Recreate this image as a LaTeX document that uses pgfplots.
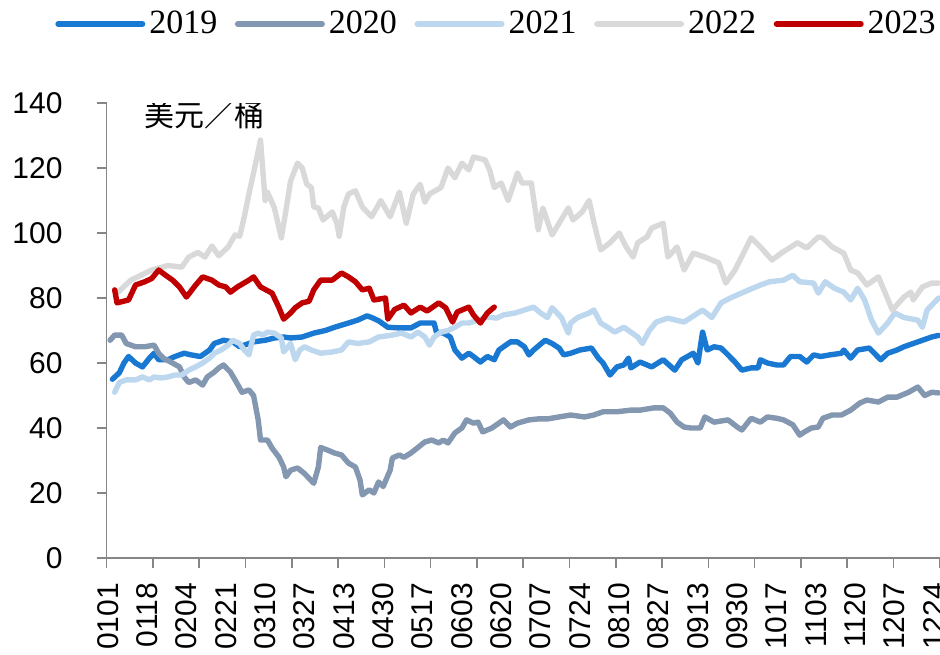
\documentclass[border=0pt]{standalone}
\usepackage{fontspec}
\setmainfont{Liberation Sans}
\newfontfamily\timesf{Liberation Serif}
\newfontfamily\cjk{Noto Sans CJK SC}
\usepackage{pgfplots}
\pgfplotsset{compat=1.18}
\definecolor{c2019}{RGB}{24,120,210}
\definecolor{c2020}{RGB}{132,151,176}
\definecolor{c2021}{RGB}{189,215,238}
\definecolor{c2022}{RGB}{217,217,217}
\definecolor{c2023}{RGB}{192,0,0}
\definecolor{axgray}{RGB}{134,134,134}

\begin{document}
\begin{tikzpicture}
\begin{axis}[
  scale only axis, width=416.7pt, height=227.5pt,
  at={(0,0)}, anchor=south west,
  xmin=0.5, xmax=360.6, ymin=0, ymax=140,
  axis x line=bottom, axis y line=left,
  axis line style={axgray, line width=0.8pt, -},
  tick style={axgray, line width=0.8pt},
  tick align=outside, major tick length=5pt,
  xtick={0.5,20.5,...,360.5}, xticklabels={},
  extra x ticks={1,18,...,358},
  extra x tick labels={0101,0118,0204,0221,0310,0327,0413,0430,0517,0603,0620,0707,0724,0810,0827,0913,0930,1017,1103,1120,1207,1224},
  extra x tick style={major tick length=0pt},
  x tick label style={yshift=-9pt, rotate=90, anchor=east, font=\fontsize{15}{18}\selectfont},
  ytick={0,20,...,140},
  y tick label style={xshift=-13.5pt, font=\fontsize{15}{18}\selectfont},
  /pgf/number format/assume math mode=true,
  every axis plot/.append style={line width=2.7pt, line join=round, line cap=round, mark=none},
  legend style={at={(-0.062,1.1736)}, anchor=west, draw=none, fill=none, inner sep=0pt,
    font=\timesf\fontsize{17}{20}\selectfont, nodes={inner sep=0pt},
    /tikz/every odd column/.append style={column sep=2pt},
    /tikz/every even column/.append style={column sep=8.8pt}},
  legend columns=5,
  legend image code/.code={\draw[#1, line width=3pt] (0pt,0pt) -- (42pt,0pt);},
]
% 2019
\addplot[c2019] coordinates {
(3,55)(6,57)(8,60)(10,62)(13,60)(16,58.8)(19,61.5)(21,63)(23,61)(27,61)(30,62)(34,63)(37,62.5)(41,62)(45,64)(47,66)(51,67)(55,66.5)(58,65)(60,65.5)(64,66.5)(69,67)(73,67.7)(77,68)(80,67.7)(85,68)(90,69.2)(95,70)(99,71)(105,72.3)(109,73.2)(113,74.5)(115,74)(118,73)(122,71)(127,70.8)(132,70.8)(136,72.3)(142,72.3)(143,69.5)(146,69.2)(149,68)(151,64)(154,61.5)(157,63)(159,62)(162,60.3)(165,62)(168,61)(170,64)(172,65)(175,66.5)(178,66.5)(181,65)(183,62.5)(185,64)(190,67)(193,66)(196,64.6)(198,62.5)(201,63)(205,64)(210,64.6)(213,61.5)(215,60)(218,56.3)(221,58.8)(224,59.4)(226,61.5)(227,58.5)(231,60.3)(236,58.8)(241,61)(246,57.8)(249,61)(254,63)(256,60)(258,69.5)(260,64)(263,65)(266,64.6)(269,62.5)(272,60.3)(275,57.8)(279,58.5)(282,58.5)(283,61)(286,60)(290,59.4)(293,59.4)(296,62)(300,62)(303,60.3)(306,62.5)(309,62)(313,62.5)(318,63)(319,64)(322,61.5)(325,64)(330,64.6)(335,61)(338,63)(342,64)(345,65)(349,66)(353,67)(357,68)(360,68.5)
};
\addlegendentry{2019}
% 2020
\addplot[c2020] coordinates {
(2,67)(4,68.6)(7,68.6)(9,66)(13,65)(17,65)(21,65.5)(23,63)(25,61.5)(29,60)(32,58.8)(34,55.7)(36,54)(39,54.8)(42,53.2)(44,55.7)(47,57.2)(49,58.5)(51,59.4)(54,57.2)(56,54.8)(59,51)(62,51.7)(64,50)(66,42.5)(67,36.3)(70,36.3)(72,33.8)(75,31)(77,28)(78,25)(80,27)(83,27.7)(86,26)(90,23)(92,28)(93,34)(96,33.2)(99,32.3)(102,31.7)(105,29.2)(108,28)(110,24)(111,19.4)(114,21)(116,20)(118,23.4)(120,22)(123,27)(124,30.8)(127,31.7)(129,31)(132,32.3)(135,34)(138,35.7)(141,36.3)(144,35.4)(146,36.3)(148,35.4)(151,38.5)(154,40)(156,42.5)(159,41.5)(161,41.8)(163,38.8)(167,40)(170,41.5)(172,42.5)(175,40.3)(178,41.5)(183,42.5)(187,42.8)(191,42.8)(196,43.4)(201,44)(207,43.4)(211,44)(215,45)(221,45)(227,45.5)(231,45.5)(237,46.2)(241,46.2)(244,44.6)(247,41.8)(250,40.3)(253,40)(257,40)(259,43.4)(263,41.8)(269,42.5)(273,40.3)(275,39.4)(279,43)(283,41.8)(286,43.4)(290,43)(293,42.5)(297,41)(300,37.8)(302,38.8)(305,40)(308,40.3)(310,43)(314,44)(318,44)(322,45.5)(326,47.7)(329,48.6)(334,48)(338,49.5)(342,49.5)(347,51)(351,52.6)(354,50)(357,51)(360,50.8)
};
\addlegendentry{2020}
% 2021
\addplot[c2021] coordinates {
(4,51)(6,54)(9,54.8)(13,54.8)(16,55.7)(19,54.8)(21,55.7)(24,55.4)(27,55.7)(30,56.3)(33,56.3)(36,57.8)(39,58.8)(42,60)(45,61.5)(47,63)(50,64)(53,65.5)(55,67)(58,66)(60,64)(62,62.5)(64,68.6)(66,69.2)(68,68.6)(70,69.5)(73,69.2)(76,67.7)(77,63.4)(80,66)(82,61)(84,64)(86,65)(89,64)(93,63)(98,63.4)(102,64)(105,66.5)(109,66)(114,66.5)(118,68)(124,68.6)(128,69.2)(132,68)(135,69.5)(138,68)(140,65.5)(142,68)(145,69.5)(148,70)(151,71)(154,72.3)(157,72.3)(161,73.2)(164,74)(167,74)(169,73.8)(172,74.8)(177,75.4)(181,76.3)(185,77.2)(188,75.4)(191,74)(193,77)(197,74)(200,69.2)(201,72.3)(204,74)(209,75.4)(211,76.3)(214,72.3)(217,71)(220,69.5)(224,71)(227,69.5)(230,68)(232,66)(235,70)(238,72.6)(243,73.8)(250,72.6)(258,76.3)(262,74)(266,78.5)(270,80)(278,82.5)(283,84)(287,85)(293,85.5)(297,87)(300,85)(306,84.6)(308,81.5)(311,85)(315,83)(319,81.8)(322,79.4)(325,83)(328,79.4)(331,73.2)(334,69.2)(338,72.3)(341,75.4)(345,74)(351,73.2)(353,71)(355,76.3)(358,78.5)(360,80)
};
\addlegendentry{2021}
% 2022
\addplot[c2022] coordinates {
(5,81.5)(11,85.5)(20,88.6)(27,90)(33,89.5)(36,92.6)(40,94)(43,92.6)(46,96)(49,93)(53,95.7)(56,99.4)(58,99)(60,105)(62,112)(64,118.5)(67,128.6)(69,110)(70,112.6)(73,107.7)(76,98.5)(78,107)(80,116)(83,121.5)(85,120)(87,115)(89,114)(90,108)(92,107.7)(94,104)(98,106.5)(100,103)(101,99)(103,108)(105,112)(108,113)(111,108)(115,105)(119,110)(123,105)(127,112.6)(130,103)(133,112)(136,115)(138,109.5)(140,112)(145,114)(148,120)(151,117)(154,121.5)(157,119.4)(159,123.4)(164,122.5)(166,119.4)(168,114)(171,115.4)(174,110)(178,118.5)(180,115.4)(184,115.4)(187,101)(189,107.7)(193,99.4)(196,103)(200,107.7)(202,104)(206,106.5)(209,110)(211,103.4)(214,94.8)(218,97)(222,100)(225,95.7)(228,92.6)(230,97)(234,98.8)(236,101.5)(241,103)(243,92.6)(247,95.7)(250,88.6)(254,93.8)(259,92.6)(265,90.8)(268,84.6)(272,88.6)(279,98.5)(283,95.7)(288,91.7)(292,93.8)(299,97)(303,95.4)(308,98.8)(310,98.5)(314,95.7)(319,93.8)(322,88.6)(325,87.7)(329,84)(334,86.5)(340,76.3)(345,80.3)(348,81.8)(349,79.4)(353,83.4)(357,84.6)(360,84.6)
};
\addlegendentry{2022}
% 2023
\addplot[c2023] coordinates {
(4,82.5)(5,78.5)(10,79.4)(13,84)(17,85)(20,86)(23,88.6)(26,87)(29,85.5)(32,83.4)(35,80.3)(39,84)(42,86.5)(46,85.5)(49,84)(52,83.4)(54,81.8)(57,83.4)(62,85.5)(64,86.5)(67,83.4)(72,81.5)(75,77)(77,73.5)(80,75.4)(82,77)(85,78.5)(88,79)(90,82.5)(93,85.5)(98,85.5)(102,87.7)(105,86.5)(108,85)(111,82.5)(114,83)(116,79.4)(121,80)(122,73.5)(125,76.5)(129,77.8)(132,75.4)(136,77.2)(139,76)(144,78.5)(147,77)(150,72.6)(152,75.7)(157,77.2)(159,74.8)(162,72.3)(165,75.4)(168,77.2)
};
\addlegendentry{2023}
\node[font=\cjk\fontsize{15}{18}\selectfont, anchor=west] at (rel axis cs:0.037,0.974) {美元／桶};
\end{axis}
\pgfresetboundingbox
\path[use as bounding box] (-53.3pt,-48pt) rectangle (416.7pt,279pt);
\end{tikzpicture}
\end{document}
